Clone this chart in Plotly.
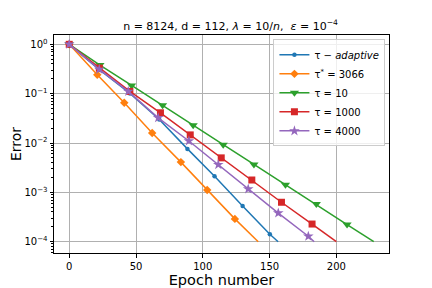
import plotly.graph_objects as go

# ---- data ----
epochs_adaptive = [0, 22.8, 45.5, 67.4, 88.5, 108.8, 129.8, 150.2, 156.4]
error_adaptive = [1.0, 0.303, 0.101, 0.0299, 0.0076, 0.00212, 0.00053, 0.000142, 0.0001]

epochs_tau_star = [0, 21.0, 41.2, 62.1, 83.6, 103.3, 124.0, 141.5]
error_tau_star = [1.0, 0.242, 0.0653, 0.016, 0.0041, 0.00112, 0.00029, 0.0001]

epochs_tau10 = [0, 23.0, 46.7, 69.9, 92.8, 115.3, 138.3, 161.9, 185.0, 208.0, 228.0]
error_tau10 = [1.0, 0.379, 0.147, 0.0585, 0.0229, 0.00927, 0.00369, 0.00143, 0.000578, 0.000223, 0.0001]

epochs_tau1000 = [0, 22.5, 45.4, 68.3, 90.6, 113.8, 136.7, 158.9, 181.8, 200.0]
error_tau1000 = [1.0, 0.330, 0.111, 0.041, 0.0146, 0.0050, 0.00178, 0.00063, 0.000228, 0.0001]

epochs_tau4000 = [0, 22.5, 44.2, 66.6, 89.6, 111.6, 134.0, 156.5, 179.0, 183.4]
error_tau4000 = [1.0, 0.31, 0.111, 0.0324, 0.0110, 0.00364, 0.00117, 0.00038, 0.000129, 0.0001]

labels = ["τ − <i>adaptive</i>", "τ<sup>*</sup> = 3066", "τ = 10", "τ = 1000", "τ = 4000"]
x_ticks = [0, 50, 100, 150, 200]
y_tick_vals = [1, 0.1, 0.01, 0.001, 0.0001]
y_tick_text = ["10<sup>0</sup>", "10<sup>−1</sup>", "10<sup>−2</sup>", "10<sup>−3</sup>", "10<sup>−4</sup>"]

series = [
    (epochs_adaptive, error_adaptive, labels[0], "#1f77b4", "circle", 4.5),
    (epochs_tau_star, error_tau_star, labels[1], "#ff7f0e", "diamond", 6.5),
    (epochs_tau10, error_tau10, labels[2], "#2ca02c", "triangle-down", 8),
    (epochs_tau1000, error_tau1000, labels[3], "#d62728", "square", 7),
    (epochs_tau4000, error_tau4000, labels[4], "#9467bd", "star", 8),
]

fig = go.Figure()
for xs, ys, name, color, symbol, msize in series:
    # tail segment of the line (past the last marker)
    fig.add_trace(go.Scatter(
        x=xs[-2:], y=ys[-2:], mode="lines", showlegend=False, hoverinfo="skip",
        line=dict(color=color, width=1.5), legendgroup=name))
    fig.add_trace(go.Scatter(
        x=xs[:-1], y=ys[:-1], mode="lines+markers", name=name, legendgroup=name,
        line=dict(color=color, width=1.5),
        marker=dict(symbol=symbol, size=msize, color=color, line=dict(width=0))))

font_family = "DejaVu Sans"
# the page body adds an 8px offset, so the figure is sized 424x280
fig.update_layout(
    width=424, height=280,
    margin=dict(l=46, r=43, t=27, b=35, autoexpand=False),
    paper_bgcolor="white", plot_bgcolor="white",
    font=dict(family=font_family, size=10, color="black"),
    title=dict(text="n = 8124, d = 112, <i>λ</i> = 10/<i>n</i>,  <i>ε</i> = 10<sup>−4</sup>",
               x=0.525, xanchor="center", y=0.936, yanchor="middle",
               font=dict(size=11), automargin=False),
    legend=dict(x=0.655, y=0.98, xanchor="left", yanchor="top",
                bgcolor="rgba(255,255,255,0.8)", bordercolor="#cccccc", borderwidth=1,
                font=dict(size=10), tracegroupgap=0, itemwidth=30),
    showlegend=True,
)
fig.update_xaxes(
    range=[-11.4, 239.4], tickvals=x_ticks, ticks="outside", ticklen=3.5, tickcolor="black",
    showline=True, linecolor="black", linewidth=1, mirror=True,
    showgrid=True, gridcolor="#b0b0b0", gridwidth=0.8, zeroline=False,
    title=dict(text="Epoch number", font=dict(size=14.5), standoff=14),
    tickfont=dict(size=10), automargin=False,
)
fig.update_yaxes(
    type="log", range=[-4.229, 0.189], tickvals=y_tick_vals, ticktext=y_tick_text,
    ticks="outside", ticklen=3.5, tickcolor="black",
    minor=dict(ticks="outside", ticklen=2, tickcolor="black", dtick="D1", showgrid=False),
    showline=True, linecolor="black", linewidth=1, mirror=True,
    showgrid=True, gridcolor="#b0b0b0", gridwidth=0.8, zeroline=False,
    title=dict(text="Error", font=dict(size=14), standoff=17),
    tickfont=dict(size=10), automargin=False,
)

fig.write_html("out.html")
